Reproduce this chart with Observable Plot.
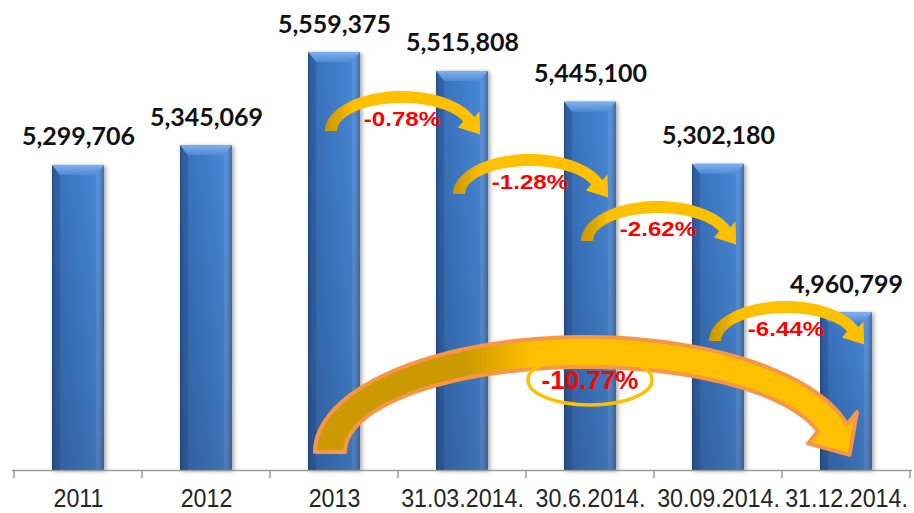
<!DOCTYPE html>
<html><head><meta charset="utf-8">
<script src="https://cdn.jsdelivr.net/npm/d3@7"></script>
<script src="https://cdn.jsdelivr.net/npm/@observablehq/plot@0.6"></script>
<style>html,body{margin:0;padding:0;background:#fff;overflow:hidden}</style>
</head><body><div id="chart"></div>
<script>
// ---- data ----
const categories = ["2011", "2012", "2013", "31.03.2014.", "30.6.2014.", "30.09.2014.", "31.12.2014."];
const values = [5299706, 5345069, 5559375, 5515808, 5445100, 5302180, 4960799];
const yBase = 4598000;
const yTop = 5679000;
// change annotations (curved arrows)
const changeFrom = [2, 3, 4, 5, 2];
const changeTo = [3, 4, 5, 6, 6];
const changeLabels = ["-0.78%", "-1.28%", "-2.62%", "-6.44%", "-10.77%"];
const changeLevel = [5377700, 5232800, 5124700, 4894700, 4639400];
// ring around the total change label
const ringCategory = "30.6.2014.";
const ringLevel = 4805000;

const rows = categories.map((c, i) => ({cat: c, value: values[i]}));
const fmt = d3.format(",");

const plot = Plot.plot({
  width: 914,
  height: 513,
  marginLeft: 12,
  marginRight: 2,
  marginTop: 0,
  marginBottom: 43,
  style: {
    fontFamily: "'Liberation Sans', Arial, sans-serif",
    fontSize: "25px",
    color: "#262626",
    background: "#fff",
    overflow: "visible"
  },
  x: {domain: categories, padding: 0, tickSize: 0, tickPadding: 19, label: null},
  y: {domain: [yBase, yTop], axis: null},
  marks: [
    Plot.barY(rows, {x: "cat", y1: yBase, y2: "value", insetLeft: 38, insetRight: 38, fill: "url(#barGrad)"}),
    Plot.ruleY([yBase], {stroke: "#9a9a9a", strokeWidth: 1.5}),
    Plot.text(rows, {x: "cat", y: "value", text: d => fmt(d.value), dy: -28,
      fontSize: 25, fontWeight: "bold", fontFamily: "Lato, 'Open Sans', sans-serif", fill: "#111"})
  ]
});
document.getElementById("chart").appendChild(plot);

const svg = d3.select(plot);
const defs = svg.insert("defs", ":first-child");
function grad(id, stops, x2 = "100%", y2 = "0%") {
  const g = defs.append("linearGradient").attr("id", id).attr("x1", "0%").attr("y1", "0%").attr("x2", x2).attr("y2", y2);
  stops.forEach(([o, c]) => g.append("stop").attr("offset", o).attr("stop-color", c));
}
grad("barGrad", [["0", "#2c5893"], ["0.07", "#3a70bb"], ["0.5", "#3f7dcb"], ["0.9", "#4a89d6"], ["1", "#33619f"]]);
grad("bevelGrad", [["0", "#7fb1ec"], ["1", "#4f8ad4"]], "0%", "100%");
grad("shadeGrad", [["0", "rgba(0,0,0,0)"], ["1", "rgba(0,0,0,0.16)"]], "0%", "100%");
grad("smallArrowGrad", [["0", "#c99700"], ["0.1", "#e0aa00"], ["0.18", "#ffc000"], ["1", "#ffc000"]]);
grad("bigArrowGrad", [["0", "#cc9900"], ["0.28", "#cc9900"], ["0.4", "#ffc000"], ["1", "#ffc000"]]);

svg.selectAll("g[aria-label='bar']").style("filter", "drop-shadow(2px 1px 2px rgba(0,0,0,0.35))");

// slightly condense the category labels
svg.selectAll("g[aria-label^='x-axis'] text").each(function () {
  const t = d3.select(this);
  const tr = t.attr("transform") || "";
  t.attr("transform", tr + " scale(0.93,1)");
});

const xs = plot.scale("x");
const ys = plot.scale("y");
const bw = xs.bandwidth;
const center = c => xs.apply(c) + bw / 2;

const deco = svg.append("g");

// bar bevel + shading
rows.forEach(d => {
  const x0 = xs.apply(d.cat) + 38, x1 = xs.apply(d.cat) + bw - 38;
  const top = ys.apply(d.value), bot = ys.apply(yBase);
  deco.append("rect").attr("x", x0).attr("y", top).attr("width", x1 - x0).attr("height", bot - top).attr("fill", "url(#shadeGrad)");
  deco.append("path").attr("d", `M${x0},${top}L${x1},${top}L${x1 - 8},${top + 10}L${x0 + 8},${top + 10}Z`).attr("fill", "url(#bevelGrad)");
  deco.append("path").attr("d", `M${x0},${top}L${x0 + 8},${top + 10}L${x0 + 8},${bot}L${x0},${bot}Z`).attr("fill", "rgba(20,50,100,0.25)");
  deco.append("path").attr("d", `M${x1},${top}L${x1 - 8},${top + 10}L${x1 - 8},${bot}L${x1},${bot}Z`).attr("fill", "rgba(255,255,255,0.08)");
});

// tick marks at category boundaries
const bounds = categories.map(c => xs.apply(c)).concat([xs.apply(categories[categories.length - 1]) + bw]);
const yb0 = ys.apply(yBase);
bounds.forEach(bx => deco.append("line").attr("x1", bx).attr("x2", bx).attr("y1", yb0).attr("y2", yb0 + 8).attr("stroke", "#9a9a9a").attr("stroke-width", 1.5));

function arrowPath(cx, yb, a, b, t, W, L, te) {
  const pts = [];
  const N = 60;
  for (let k = 0; k <= N; k++) {
    const th = Math.PI - (Math.PI - te) * k / N;
    pts.push([cx + (a + t / 2) * Math.cos(th), yb - (b + t / 2) * Math.sin(th)]);
  }
  const P = [cx + a * Math.cos(te), yb - b * Math.sin(te)];
  let u = [a * Math.sin(te), b * Math.cos(te)];
  let ul = Math.hypot(u[0], u[1]); u = [u[0] / ul, u[1] / ul];
  let n = [Math.cos(te) / a, -Math.sin(te) / b];
  let nl = Math.hypot(n[0], n[1]); n = [n[0] / nl, n[1] / nl];
  pts.push([P[0] + n[0] * W / 2, P[1] + n[1] * W / 2]);
  pts.push([P[0] + u[0] * L, P[1] + u[1] * L]);
  pts.push([P[0] - n[0] * W / 2, P[1] - n[1] * W / 2]);
  for (let k = N; k >= 0; k--) {
    const th = Math.PI - (Math.PI - te) * k / N;
    pts.push([cx + (a - t / 2) * Math.cos(th), yb - (b - t / 2) * Math.sin(th)]);
  }
  return "M" + pts.map(p => p[0].toFixed(1) + "," + p[1].toFixed(1)).join("L") + "Z";
}

function label(x, y, txt, size, sx) {
  deco.append("g").attr("transform", `translate(${x},${y}) scale(${sx},1)`)
    .append("text").attr("dy", "0.35em").attr("text-anchor", "middle")
    .attr("font-family", "'Liberation Sans', Arial, sans-serif").attr("font-weight", "bold").attr("font-size", size)
    .attr("fill", "#ff0000").text(txt);
}

// big arrow first (beneath)
changeFrom.forEach((fi, k) => {
  if (changeTo[k] - fi > 1) {
    const yb = ys.apply(changeLevel[k]);
    const xt = center(categories[fi]) - 4;
    const a = 255, cx = xt + a;
    deco.append("path").attr("d", arrowPath(cx, yb, a, 100, 30, 58, 32, 14 * Math.PI / 180))
      .attr("fill", "url(#bigArrowGrad)").attr("stroke", "#f79646").attr("stroke-width", 4).attr("stroke-linejoin", "round");
  }
});
// ring
const rx = center(ringCategory), ry = ys.apply(ringLevel);
deco.append("ellipse").attr("cx", rx).attr("cy", ry).attr("rx", 62).attr("ry", 25).attr("fill", "none").attr("stroke", "#ffc000").attr("stroke-width", 3.5);

changeFrom.forEach((fi, k) => {
  const yb = ys.apply(changeLevel[k]);
  if (changeTo[k] - fi === 1) {
    const xt = center(categories[fi]) - 3;
    const a = 71, cx = xt + a;
    deco.append("path").attr("d", arrowPath(cx, yb, a, 34, 12, 27, 19, 20 * Math.PI / 180))
      .attr("fill", "url(#smallArrowGrad)");
    label(cx, yb - 12, changeLabels[k], 21, 1.15);
  } else {
    label(rx, ry, changeLabels[k], 26, 1);
  }
});
svg.selectAll("g[aria-label='text']").raise();
</script>
</body></html>
